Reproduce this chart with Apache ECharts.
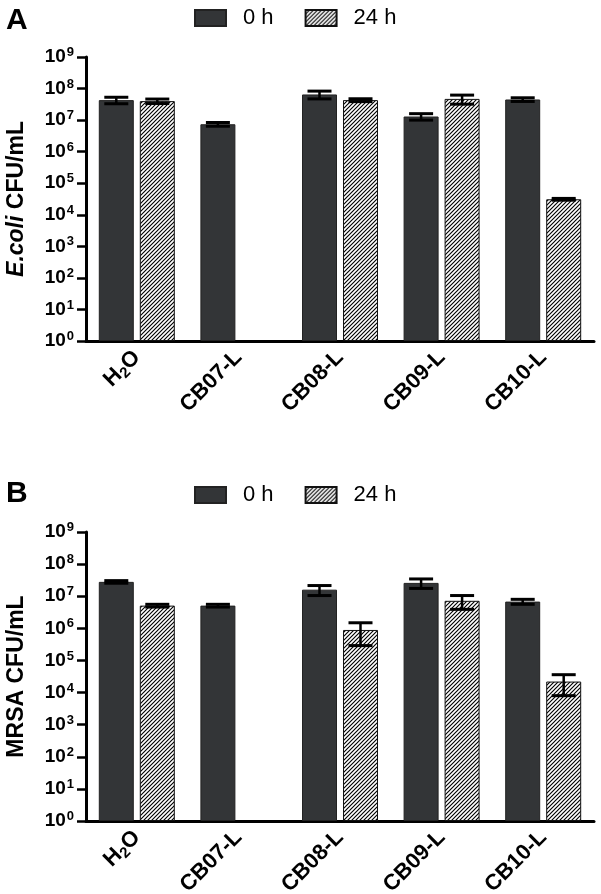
<!DOCTYPE html>
<html>
<head>
<meta charset="utf-8">
<script src="https://cdn.jsdelivr.net/npm/echarts@6/dist/echarts.min.js"></script>
<style>
html,body{margin:0;padding:0;background:#fff;}
#chart{width:601px;height:894px;}
</style>
</head>
<body>
<div id="chart"></div>
<script>
// ---- data ----
const categories = ['H2O', 'CB07-L', 'CB08-L', 'CB09-L', 'CB10-L'];
const seriesNames = ['0 h', '24 h'];
const ecoli0h = [4.3e7, 7.4e6, 6.5e7, 1.3e7, 4.5e7];
const ecoli0hErr = [1.0e7, 1.0e6, 1.8e7, 3.0e6, 6.0e6];
const ecoli24h = [4.0e7, null, 4.3e7, 4.7e7, 3.1e4];
const ecoli24hErr = [6.5e6, null, 4.5e6, 1.5e7, 2.0e3];
const mrsa0h = [2.8e7, 5.1e6, 1.6e7, 2.6e7, 6.8e6];
const mrsa0hErr = [2.6e6, 5.0e5, 5.5e6, 8.5e6, 1.2e6];
const mrsa24h = [5.1e6, null, 8.9e5, 7.2e6, 2.2e4];
const mrsa24hErr = [5.0e5, null, 6.0e5, 3.3e6, 1.4e4];
const yTickMin = 1;
const yTickMax = 1e9;

// ---- styles ----
const FONT = '"Liberation Sans", Arial, sans-serif';
const BAR_W = 35;
const BAR_GAP = 6;
const DARK = '#333537';

function hatch() {
  const s = 4;
  const c = document.createElement('canvas');
  c.width = s; c.height = s;
  const g = c.getContext('2d');
  g.fillStyle = '#fff';
  g.fillRect(0, 0, s, s);
  g.strokeStyle = '#000';
  g.lineWidth = 1.15;
  g.beginPath();
  g.moveTo(-1, s + 1); g.lineTo(s + 1, -1);
  g.moveTo(-1, 1); g.lineTo(1, -1);
  g.moveTo(s - 1, s + 1); g.lineTo(s + 1, s - 1);
  g.stroke();
  return c;
}
const HATCH = { image: hatch(), repeat: 'repeat' };

const chart = echarts.init(document.getElementById('chart'), null, { renderer: 'canvas' });

const grids = [
  { left: 86, right: 7, top: 57, height: 284, containLabel: false, outerBoundsMode: 'none' },
  { left: 86, right: 7, top: 532, height: 289, containLabel: false, outerBoundsMode: 'none' }
];

function xAxis(gi) {
  return {
    type: 'category', gridIndex: gi, data: categories,
    axisLine: { lineStyle: { color: '#000', width: 3 } },
    axisTick: { alignWithLabel: true, length: 9, lineStyle: { color: '#000', width: 2.5 } },
    axisLabel: {
      rotate: 45, margin: 13, color: '#000', fontFamily: FONT, fontWeight: 'bold', fontSize: 22,
      formatter: v => v === 'H2O' ? '{b|H}{sub|2}{b|O}' : '{b|' + v + '}',
      rich: {
        b: { fontFamily: FONT, fontWeight: 'bold', fontSize: 22, color: '#000' },
        sub: { fontFamily: FONT, fontWeight: 'bold', fontSize: 15, color: '#000', padding: [11, 0, 0, 0] }
      }
    },
    splitLine: { show: false }
  };
}

function yAxis(gi, name) {
  return {
    type: 'log', logBase: 10, gridIndex: gi, min: yTickMin, max: yTickMax, interval: 1,
    name: name, nameLocation: 'middle', nameGap: 58,
    nameTextStyle: {
      color: '#000', fontFamily: FONT, fontWeight: 'bold', fontSize: 23,
      rich: {
        i: { fontFamily: FONT, fontStyle: 'italic', fontWeight: 'bold', fontSize: 23, color: '#000' },
        n: { fontFamily: FONT, fontWeight: 'bold', fontSize: 23, color: '#000' }
      }
    },
    axisLine: { show: true, lineStyle: { color: '#000', width: 3 } },
    axisTick: { show: true, length: 9, lineStyle: { color: '#000', width: 2.5 } },
    axisLabel: {
      margin: 12, color: '#000',
      formatter: v => '{b|10}{s|' + Math.round(Math.log10(v)) + '}',
      rich: {
        b: { fontFamily: FONT, fontWeight: 'bold', fontSize: 19, color: '#000', lineHeight: 21 },
        s: { fontFamily: FONT, fontWeight: 'bold', fontSize: 13, color: '#000', verticalAlign: 'top', padding: [0, 0, 9, 1] }
      }
    },
    splitLine: { show: false }
  };
}

function bars(gi, vals, isHatched, name) {
  return {
    type: 'bar', name: name, xAxisIndex: gi, yAxisIndex: gi,
    barWidth: BAR_W, barGap: (BAR_GAP / BAR_W * 100) + '%',
    data: vals,
    itemStyle: isHatched
      ? { color: HATCH, borderColor: '#111', borderWidth: 1 }
      : { color: DARK, borderColor: '#222', borderWidth: 1 },
    emphasis: { disabled: true },
    z: 2
  };
}

function errs(gi, vals, errors, side) {
  const data = [];
  vals.forEach((v, i) => { if (v != null) data.push([i, v, errors[i]]); });
  return {
    type: 'custom', name: 'err' + gi + side, xAxisIndex: gi, yAxisIndex: gi,
    data: data, z: 5, silent: true,
    encode: { x: 0, y: 1 },
    renderItem: (params, api) => {
      const cat = api.value(0), m = api.value(1), e = api.value(2);
      const off = side * (BAR_W / 2 + BAR_GAP / 2);
      const hi = api.coord([cat, m + e]);
      const lo = api.coord([cat, Math.max(m - e, 1)]);
      const x = hi[0] + off;
      const cw = 12;
      const st = { stroke: '#000', lineWidth: 2.5 };
      const cst = { stroke: '#000', lineWidth: 3 };
      return {
        type: 'group',
        children: [
          { type: 'line', shape: { x1: x, y1: hi[1], x2: x, y2: lo[1] }, style: st },
          { type: 'line', shape: { x1: x - cw, y1: hi[1], x2: x + cw, y2: hi[1] }, style: cst },
          { type: 'line', shape: { x1: x - cw, y1: lo[1], x2: x + cw, y2: lo[1] }, style: cst }
        ]
      };
    }
  };
}

function legend(top) {
  return {
    top: top, left: 194, padding: 0, orient: 'horizontal', icon: 'rect',
    data: seriesNames, itemWidth: 31, itemHeight: 16, itemGap: 31,
    selectedMode: false,
    textStyle: { fontFamily: FONT, fontSize: 22, color: '#000', padding: [0, 0, 0, 12] }
  };
}

const option = {
  animation: false,
  backgroundColor: '#fff',
  grid: grids,
  legend: [legend(7), legend(484)],
  xAxis: [xAxis(0), xAxis(1)],
  yAxis: [yAxis(0, '{i|E.coli}{n| CFU/mL}'), yAxis(1, 'MRSA CFU/mL')],
  graphic: [
    { type: 'text', left: 6, top: 6, style: { text: 'A', font: 'bold 30px ' + FONT, fill: '#000' } },
    { type: 'text', left: 6, top: 479, style: { text: 'B', font: 'bold 30px ' + FONT, fill: '#000' } }
  ],
  series: [
    bars(0, ecoli0h, false, seriesNames[0]),
    bars(0, ecoli24h, true, seriesNames[1]),
    bars(1, mrsa0h, false, seriesNames[0]),
    bars(1, mrsa24h, true, seriesNames[1]),
    errs(0, ecoli0h, ecoli0hErr, -1),
    errs(0, ecoli24h, ecoli24hErr, 1),
    errs(1, mrsa0h, mrsa0hErr, -1),
    errs(1, mrsa24h, mrsa24hErr, 1)
  ]
};
chart.setOption(option);
</script>
</body>
</html>
